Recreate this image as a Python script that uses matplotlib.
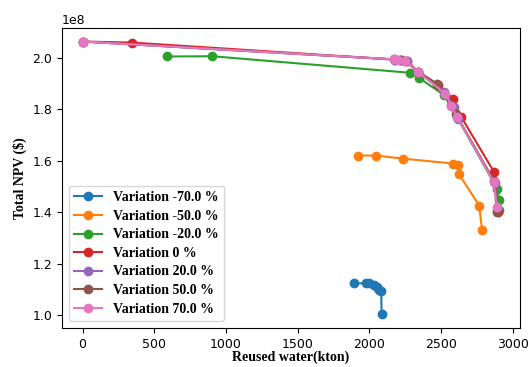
import matplotlib
matplotlib.use('Agg')
import matplotlib.pyplot as plt

# Reused water (kton) and total NPV ($) for each variation
labels = ['Variation -70.0 %', 'Variation -50.0 %', 'Variation -20.0 %', 'Variation 0 %',
          'Variation 20.0 %', 'Variation 50.0 %', 'Variation 70.0 %']

x_m70 = [1890, 1975, 2000, 2030, 2055, 2070, 2082, 2085]
y_m70 = [1.125e8, 1.125e8, 1.124e8, 1.12e8, 1.11e8, 1.10e8, 1.095e8, 1.004e8]

x_m50 = [1920, 2045, 2235, 2585, 2615, 2625, 2765, 2785]
y_m50 = [1.620e8, 1.620e8, 1.608e8, 1.589e8, 1.585e8, 1.547e8, 1.426e8, 1.333e8]

x_m20 = [587, 905, 2282, 2345, 2520, 2610, 2890, 2905, 2900]
y_m20 = [2.004e8, 2.005e8, 1.941e8, 1.921e8, 1.855e8, 1.77e8, 1.491e8, 1.446e8, 1.41e8]

x_0 = [0, 345, 2180, 2220, 2260, 2340, 2480, 2580, 2640, 2870, 2895]
y_0 = [2.062e8, 2.058e8, 1.992e8, 1.990e8, 1.988e8, 1.945e8, 1.895e8, 1.840e8, 1.770e8, 1.555e8, 1.400e8]

x_20 = [0, 2180, 2220, 2260, 2340, 2520, 2590, 2620, 2875, 2890]
y_20 = [2.062e8, 1.992e8, 1.990e8, 1.988e8, 1.943e8, 1.866e8, 1.810e8, 1.762e8, 1.515e8, 1.410e8]

x_50 = [0, 2170, 2210, 2250, 2340, 2470, 2570, 2600, 2870, 2890]
y_50 = [2.062e8, 1.993e8, 1.990e8, 1.988e8, 1.943e8, 1.898e8, 1.815e8, 1.782e8, 1.520e8, 1.400e8]

x_70 = [0, 2170, 2200, 2250, 2340, 2530, 2570, 2610, 2865, 2890]
y_70 = [2.062e8, 1.993e8, 1.990e8, 1.988e8, 1.943e8, 1.860e8, 1.814e8, 1.770e8, 1.519e8, 1.420e8]

xs = [x_m70, x_m50, x_m20, x_0, x_20, x_50, x_70]
ys = [y_m70, y_m50, y_m20, y_0, y_20, y_50, y_70]

fig = plt.figure(figsize=(5.28, 3.67), dpi=100)
ax = fig.add_axes([0.117, 0.106, 0.868, 0.818])

for x, y, lab in zip(xs, ys, labels):
    ax.plot(x, y, marker='o', markersize=6, linewidth=1.5, label=lab)

ax.tick_params(labelsize=9)
ax.yaxis.get_offset_text().set_fontsize(9)
ax.set_xticks([0, 500, 1000, 1500, 2000, 2500, 3000])

ax.set_xlabel('Reused water(kton)', family='Liberation Serif', fontweight='bold',
              fontsize=10, labelpad=0)
ax.set_ylabel('Total NPV ($)', family='Liberation Serif', fontweight='bold', fontsize=10)

ax.legend(loc='lower left', labelspacing=0.4,
          prop={'family': 'Liberation Serif', 'weight': 'bold', 'size': 10})

fig.savefig('out.png', dpi=100)
